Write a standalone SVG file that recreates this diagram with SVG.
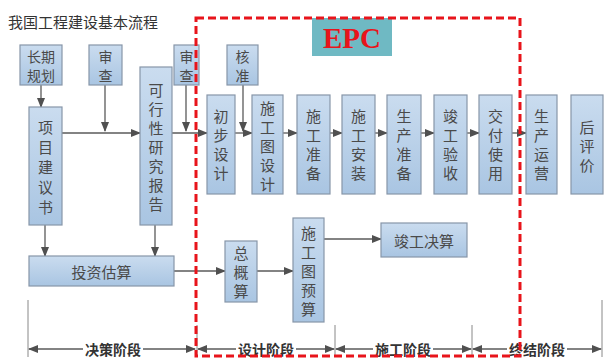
<svg xmlns="http://www.w3.org/2000/svg" width="604" height="359" viewBox="0 0 604 359">
<defs>
<linearGradient id="bg" x1="0" y1="0" x2="0" y2="1">
<stop offset="0" stop-color="#cadcef"/>
<stop offset="1" stop-color="#a9c5e2"/>
</linearGradient>
<marker id="ah" markerWidth="10" markerHeight="8" refX="9" refY="4" orient="auto" markerUnits="userSpaceOnUse">
<path d="M0,0 L10,4 L0,8 Z" fill="#505050"/>
</marker>
<marker id="ahs" markerWidth="10" markerHeight="8" refX="1" refY="4" orient="auto" markerUnits="userSpaceOnUse">
<path d="M10,0 L0,4 L10,8 Z" fill="#505050"/>
</marker>
</defs>
<style>
.box{fill:url(#bg);stroke:#8796a8;stroke-width:1.2}
.t{font-family:"Noto Sans CJK SC","Noto Sans",sans-serif;font-size:15px;fill:#4a4a4a;text-anchor:middle;dominant-baseline:central}
.s{font-size:14px}
.ph{font-family:"Noto Sans CJK SC",sans-serif;font-size:14px;font-weight:bold;fill:#333;text-anchor:middle;dominant-baseline:central}
.arr{stroke:#5a5a5a;stroke-width:1.3;fill:none;marker-end:url(#ah)}
.dbl{stroke:#5a5a5a;stroke-width:1.3;fill:none;marker-end:url(#ah);marker-start:url(#ahs)}
.tick{stroke:#888;stroke-width:1;fill:none}
</style>
<rect width="604" height="359" fill="#fff"/>
<text x="8" y="21" font-family="Noto Sans CJK SC, sans-serif" font-size="15" fill="#333" dominant-baseline="central">我国工程建设基本流程</text>

<g id="connectors">
<path class="arr" d="M41,85 V107"/>
<path class="arr" d="M105,85 V131"/>
<path class="arr" d="M62,133 H140"/>
<path class="arr" d="M186,85 V131"/>
<path class="arr" d="M172,133 H207"/>
<path class="arr" d="M243,85 V131"/>
<path class="arr" d="M235,133 H252"/>
<path class="arr" d="M283,133 H297"/>
<path class="arr" d="M330,133 H342"/>
<path class="arr" d="M375,133 H387"/>
<path class="arr" d="M421,133 H434"/>
<path class="arr" d="M467,133 H479"/>
<path class="arr" d="M512,133 H526"/>
<path class="arr" d="M45,225 V256"/>
<path class="arr" d="M155,225 V256"/>
<path class="arr" d="M174,271 H225"/>
<path class="arr" d="M257,271 H293"/>
<path class="arr" d="M324,239 H381"/>
<path class="tick" d="M28,300 V357 M197,325 V357 M335,325 V357 M472,325 V357 M602,300 V357"/>
<path class="dbl" d="M29,349 H195"/>
<path class="dbl" d="M198,349 H334"/>
<path class="dbl" d="M336,349 H471"/>
<path class="dbl" d="M473,349 H601"/>
</g>

<g id="phases">
<rect x="83" y="341" width="60" height="16" fill="#fff"/>
<text class="ph" x="113" y="349">决策阶段</text>
<rect x="236" y="341" width="60" height="16" fill="#fff"/>
<text class="ph" x="266" y="349">设计阶段</text>
<rect x="373" y="341" width="60" height="16" fill="#fff"/>
<text class="ph" x="403" y="349">施工阶段</text>
<rect x="507" y="341" width="60" height="16" fill="#fff"/>
<text class="ph" x="537" y="349">终结阶段</text>
</g>

<g id="n-changqi"><rect class="box" x="20" y="45" width="42" height="40"/><text class="t s"><tspan x="41" y="55.5">长期</tspan><tspan x="41" y="74.5">规划</tspan></text></g>
<g id="n-shencha1"><rect class="box" x="89" y="45" width="33" height="40"/><text class="t s"><tspan x="105.5" y="55.5">审</tspan><tspan x="105.5" y="74.5">查</tspan></text></g>
<g id="n-shencha2"><rect class="box" x="174" y="45" width="25" height="40"/><text class="t s"><tspan x="186.5" y="55.5">审</tspan><tspan x="186.5" y="74.5">查</tspan></text></g>
<g id="n-hezhun"><rect class="box" x="227" y="45" width="31" height="40"/><text class="t s"><tspan x="242.5" y="55.5">核</tspan><tspan x="242.5" y="74.5">准</tspan></text></g>

<g id="n-xiangmu"><rect class="box" x="29" y="107" width="33" height="118"/>
<text class="t"><tspan x="45.5" y="126">项</tspan><tspan x="45.5" y="146">目</tspan><tspan x="45.5" y="166">建</tspan><tspan x="45.5" y="186">议</tspan><tspan x="45.5" y="206">书</tspan></text></g>
<g id="n-kexing"><rect class="box" x="140" y="67" width="32" height="158"/>
<text class="t"><tspan x="156" y="89">可</tspan><tspan x="156" y="108">行</tspan><tspan x="156" y="127">性</tspan><tspan x="156" y="146">研</tspan><tspan x="156" y="165">究</tspan><tspan x="156" y="184">报</tspan><tspan x="156" y="203">告</tspan></text></g>

<g id="n-chubu"><rect class="box" x="207" y="95" width="28" height="99"/>
<text class="t"><tspan x="221" y="115">初</tspan><tspan x="221" y="134">步</tspan><tspan x="221" y="153">设</tspan><tspan x="221" y="172">计</tspan></text></g>
<g id="n-sgtsj"><rect class="box" x="252" y="95" width="31" height="99"/>
<text class="t"><tspan x="267.5" y="107">施</tspan><tspan x="267.5" y="126">工</tspan><tspan x="267.5" y="145">图</tspan><tspan x="267.5" y="164">设</tspan><tspan x="267.5" y="183">计</tspan></text></g>
<g id="n-sgzb"><rect class="box" x="297" y="95" width="33" height="99"/>
<text class="t"><tspan x="313.5" y="115">施</tspan><tspan x="313.5" y="134">工</tspan><tspan x="313.5" y="153">准</tspan><tspan x="313.5" y="172">备</tspan></text></g>
<g id="n-sgaz"><rect class="box" x="342" y="95" width="33" height="99"/>
<text class="t"><tspan x="358.5" y="115">施</tspan><tspan x="358.5" y="134">工</tspan><tspan x="358.5" y="153">安</tspan><tspan x="358.5" y="172">装</tspan></text></g>
<g id="n-sczb"><rect class="box" x="387" y="95" width="34" height="99"/>
<text class="t"><tspan x="404" y="115">生</tspan><tspan x="404" y="134">产</tspan><tspan x="404" y="153">准</tspan><tspan x="404" y="172">备</tspan></text></g>
<g id="n-jgys"><rect class="box" x="434" y="95" width="33" height="99"/>
<text class="t"><tspan x="450.5" y="115">竣</tspan><tspan x="450.5" y="134">工</tspan><tspan x="450.5" y="153">验</tspan><tspan x="450.5" y="172">收</tspan></text></g>
<g id="n-jfsy"><rect class="box" x="479" y="95" width="33" height="99"/>
<text class="t"><tspan x="495.5" y="115">交</tspan><tspan x="495.5" y="134">付</tspan><tspan x="495.5" y="153">使</tspan><tspan x="495.5" y="172">用</tspan></text></g>
<g id="n-scyy"><rect class="box" x="526" y="95" width="31" height="99"/>
<text class="t"><tspan x="541.5" y="115">生</tspan><tspan x="541.5" y="134">产</tspan><tspan x="541.5" y="153">运</tspan><tspan x="541.5" y="172">营</tspan></text></g>
<g id="n-hpj"><rect class="box" x="571" y="95" width="32" height="99"/>
<text class="t"><tspan x="587" y="126">后</tspan><tspan x="587" y="145">评</tspan><tspan x="587" y="164">价</tspan></text></g>

<g id="n-tzgs"><rect class="box" x="29" y="256" width="145" height="30"/><text class="t" x="101.5" y="271">投资估算</text></g>
<g id="n-zgs"><rect class="box" x="225" y="241" width="32" height="61"/>
<text class="t"><tspan x="241" y="252">总</tspan><tspan x="241" y="271">概</tspan><tspan x="241" y="290">算</tspan></text></g>
<g id="n-sgtys"><rect class="box" x="293" y="218" width="31" height="104"/>
<text class="t"><tspan x="308.5" y="232">施</tspan><tspan x="308.5" y="251">工</tspan><tspan x="308.5" y="270">图</tspan><tspan x="308.5" y="289">预</tspan><tspan x="308.5" y="308">算</tspan></text></g>
<g id="n-jgjs"><rect class="box" x="381" y="223" width="86" height="34"/><text class="t" x="424" y="240">竣工决算</text></g>

<g id="epc">
<rect x="312" y="18" width="80" height="38" fill="#6fb9c3"/>
<text x="352" y="38" font-family="Liberation Serif, serif" font-size="29" font-weight="bold" fill="#e8141b" text-anchor="middle" dominant-baseline="central">EPC</text>
<rect x="196" y="18" width="324" height="338" fill="none" stroke="#e8141b" stroke-width="3" stroke-dasharray="8,4"/>
</g>
</svg>
